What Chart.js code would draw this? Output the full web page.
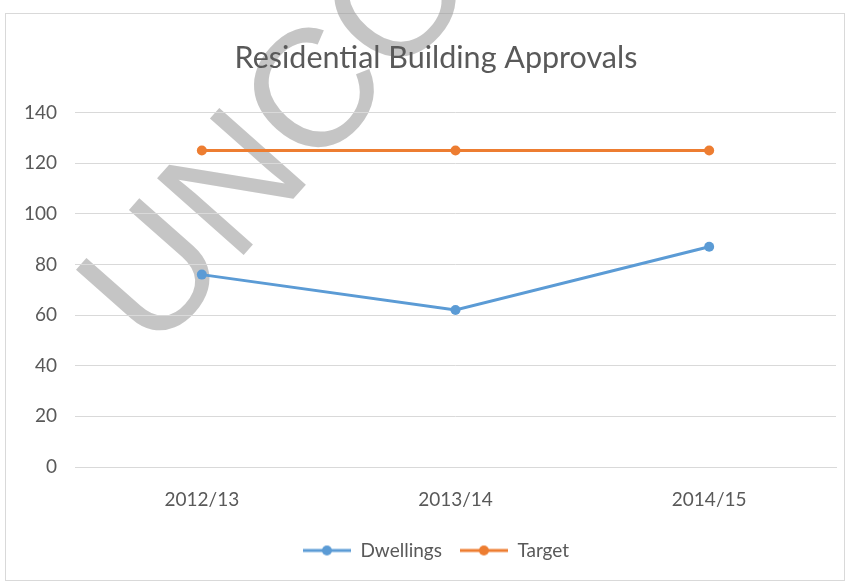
<!DOCTYPE html>
<html>
<head>
<meta charset="utf-8">
<script src="https://cdn.jsdelivr.net/npm/chart.js@4/dist/chart.umd.min.js"></script>
<style>
  html, body { margin: 0; padding: 0; background: #ffffff; }
  #wrap { width: 847px; height: 584px; }
</style>
</head>
<body>
<div id="wrap"><canvas id="c" width="847" height="584"></canvas></div>
<script>
const chartTitle = "Residential Building Approvals";
const categories = ["2012/13", "2013/14", "2014/15"];
const dwellings = [76, 62, 87];
const target = [125, 125, 125];
const yTicks = [0, 20, 40, 60, 80, 100, 120, 140];
const watermarkText = "UNCO";

const BLUE = "#5b9bd5";
const ORANGE = "#ed7d31";
const TEXT = "#595959";
const GRID = "#d9d9d9";
const FONT = "Lato, 'Open Sans', sans-serif";

function legendSymbol(color) {
  const cv = document.createElement("canvas");
  cv.width = 48; cv.height = 12;
  const g = cv.getContext("2d");
  g.strokeStyle = color; g.lineWidth = 3;
  g.beginPath(); g.moveTo(0, 6); g.lineTo(48, 6); g.stroke();
  g.fillStyle = color;
  g.beginPath(); g.arc(24, 6, 5, 0, Math.PI * 2); g.fill();
  return cv;
}
const symBlue = legendSymbol(BLUE);
const symOrange = legendSymbol(ORANGE);

const decor = {
  id: "decor",
  afterLayout(chart) {
    const shift = 18;
    if (chart.titleBlock) { chart.titleBlock.left += shift; chart.titleBlock.right += shift; }
    if (chart.legend) { chart.legend.left += shift; chart.legend.right += shift; }
  },
  beforeDraw(chart) {
    const ctx = chart.ctx;
    ctx.save();
    ctx.fillStyle = "#ffffff";
    ctx.fillRect(0, 0, chart.width, chart.height);
    ctx.strokeStyle = GRID;
    ctx.lineWidth = 1;
    ctx.strokeRect(5.5, 13.5, 839, 567);
    ctx.translate(154, 356);
    ctx.rotate(-48.5 * Math.PI / 180);
    ctx.font = "168px 'Liberation Sans', Arial, sans-serif";
    ctx.fillStyle = "rgba(150,150,150,0.55)";
    ctx.textBaseline = "alphabetic";
    ctx.fillText(watermarkText, 0, 0);
    ctx.restore();
  }
};

new Chart(document.getElementById("c"), {
  type: "line",
  data: {
    labels: categories,
    datasets: [
      {
        label: "Dwellings",
        data: dwellings,
        borderColor: BLUE,
        backgroundColor: BLUE,
        borderWidth: 3,
        pointRadius: 5,
        pointBackgroundColor: BLUE,
        pointBorderWidth: 0,
        pointStyle: "circle",
        tension: 0
      },
      {
        label: "Target",
        data: target,
        borderColor: ORANGE,
        backgroundColor: ORANGE,
        borderWidth: 3,
        pointRadius: 5,
        pointBackgroundColor: ORANGE,
        pointBorderWidth: 0,
        pointStyle: "circle",
        tension: 0
      }
    ]
  },
  options: {
    responsive: false,
    animation: false,
    devicePixelRatio: 1,
    layout: { padding: { left: 0, right: 11, top: 0, bottom: 14 } },
    plugins: {
      title: {
        display: true,
        text: chartTitle,
        color: TEXT,
        font: { family: FONT, size: 30.5, weight: "normal" },
        padding: { top: 40, bottom: 36 }
      },
      legend: {
        display: true,
        position: "bottom",
        labels: {
          color: TEXT,
          font: { family: FONT, size: 19 },
          usePointStyle: true,
          pointStyleWidth: 48,
          padding: 18,
          generateLabels(chart) {
            return chart.data.datasets.map((ds, i) => ({
              text: ds.label,
              fillStyle: ds.borderColor,
              strokeStyle: ds.borderColor,
              pointStyle: i === 0 ? symBlue : symOrange,
              lineWidth: 0,
              hidden: false,
              datasetIndex: i,
              fontColor: TEXT
            }));
          }
        }
      },
      tooltip: { enabled: false }
    },
    scales: {
      x: {
        offset: true,
        grid: { display: false },
        border: { display: true, color: GRID, width: 1 },
        ticks: { color: TEXT, font: { family: FONT, size: 19 }, padding: 13 },
        afterFit(scale) { scale.height = 56; }
      },
      y: {
        min: 0,
        max: 140,
        afterBuildTicks(scale) { scale.ticks = yTicks.map(v => ({ value: v })); },
        grid: { color: GRID, lineWidth: 1, drawTicks: false },
        border: { display: false },
        ticks: { color: TEXT, font: { family: FONT, size: 19 }, padding: 18 },
        afterFit(scale) { scale.width = 75; }
      }
    }
  },
  plugins: [decor]
});
</script>
</body>
</html>
